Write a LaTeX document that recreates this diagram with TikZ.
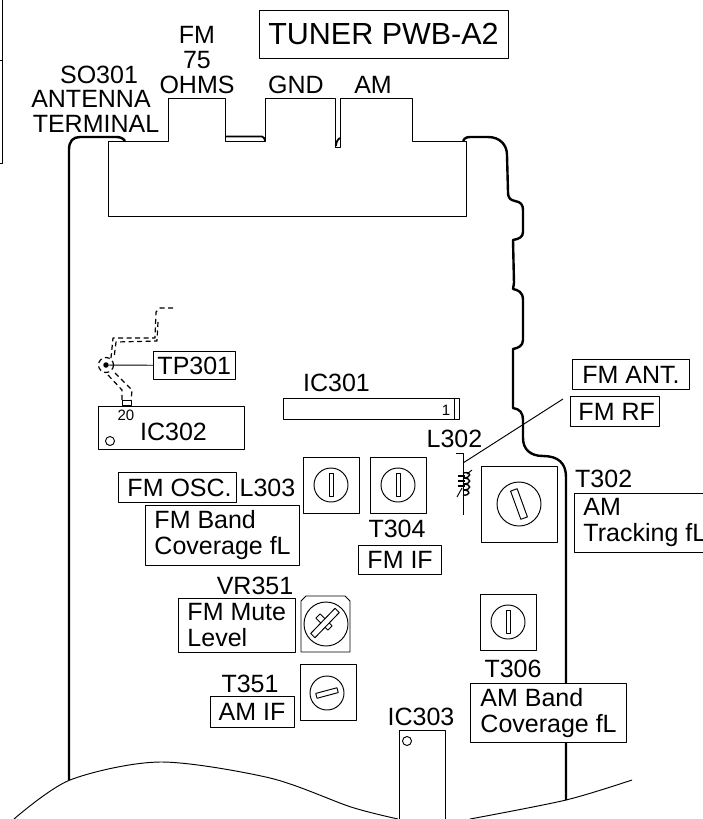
\documentclass[tikz,border=0pt]{standalone}
\usepackage{fontspec}
\setmainfont{Liberation Sans}
\usepackage{tikz}
\usetikzlibrary{calc}

\tikzset{
  thinline/.style={line width=0.95pt},
  boardline/.style={line width=2.4pt},
  tag/.style={anchor=base,inner sep=0pt,font=\fontsize{25}{26}\selectfont},
  smalltag/.style={anchor=base,inner sep=0pt,font=\fontsize{15}{16}\selectfont},
  tagbox/.style={draw,thinline,fill=white,anchor=north west,inner xsep=9pt,inner ysep=0pt,align=left,
    font=\fontsize{25}{26}\selectfont},
  knobbox/.style={draw,thinline,fill=white,inner sep=0pt,minimum width=56pt,minimum height=56pt},
  knobdial/.style={draw,thinline,circle,inner sep=0pt,minimum size=34pt},
  knobslot/.style={draw,thinline,inner sep=0pt,minimum width=4pt,minimum height=23pt},
  trace/.style={line width=1.2pt,dash pattern=on 5pt off 3.5pt},
}

\begin{document}
\begin{tikzpicture}
    [line join=bevel,x=1pt,y=-1pt]

    \useasboundingbox (0,0) rectangle (703,819);
    \clip (0,0) rectangle (703,819);

    % board outline
    \draw[boardline] (69,780) -- (69,150) .. controls (69,141) and (73,137) .. (80,137)
      -- (116,137) .. controls (120,137) and (123,138) .. (125,141);
    \draw[boardline] (463,141) .. controls (465,137) and (468,137) .. (472,137) -- (488,137)
      .. controls (500,137) and (507,145) .. (507,155) -- (508,192)
      .. controls (508,199) and (511,200) .. (515,201) .. controls (521,202) and (523,205) .. (523,210)
      -- (523,232) .. controls (523,237) and (519,239) .. (513,240) -- (514,283) -- (513,289)
      .. controls (518,290) and (523,292) .. (523,300) -- (523,340)
      .. controls (523,346) and (518,348) .. (513,349) -- (513,408)
      .. controls (520,409) and (523,413) .. (523,420) -- (523,438)
      .. controls (523,449) and (530,456) .. (543,456) .. controls (558,456) and (566,463) .. (566,477)
      -- (566,800);
    \draw[line width=1.8pt] (225,136.5) -- (262,136.5) .. controls (264,137) and (265,139) .. (265,141);
    \draw[line width=1.8pt] (336,146) .. controls (336,142) and (338,139) .. (340,138);

    % terminal block
    \draw[thinline] (108,141) -- (168,141) -- (168,98) -- (225,98) -- (225,141) -- (265,141)
      -- (265,98) -- (335,98) -- (335,147) -- (340,147) -- (340,98) -- (412,98) -- (412,141)
      -- (466,141) -- (466,216) -- (108,216) -- cycle;

    % cut edge at the bottom
    \draw[thinline] plot[smooth] coordinates {(14,819) (70,780) (160,762) (270,778) (351,807) (398,819)};
    \draw[thinline] plot[smooth] coordinates {(470,819) (566,800) (632,780)};

    % frame at top left
    \draw[thinline] (0,60) -- (2,60);
    \draw[thinline] (2,0) -- (2,163) -- (0,163);

    \node[tag] (fmlabel) at (197,43) {FM};
    \node[tag] (ohmsvalue) at (197,68) {75};
    \node[tag] (ohmslabel) at (197,93) {OHMS};
    \node[tag] (gndlabel) at (296,93) {GND};
    \node[tag] (amlabel) at (373,93) {AM};
    \node[tag] (so301) at (99,83) {SO301};
    \node[tag] (antenna) at (91,107) {ANTENNA};
    \node[tag] (terminal) at (96,132) {TERMINAL};
    \node[draw,thinline,inner sep=0pt,minimum width=249pt,minimum height=48pt,
      font=\fontsize{30.5}{32}\selectfont] (tuner) at (383.5,34) {TUNER PWB-A2};

    % IC302 and TP301
    \node[draw,thinline,anchor=north west,inner sep=0pt,minimum width=146pt,minimum height=43pt] (ic302box) at (98,406) {};
    \node[draw,thinline,circle,inner sep=0pt,minimum size=9pt] (ic302hole) at (110,441) {};
    \node[tag] (ic302) at (173.5,440) {IC302};
    \node[smalltag] (pin20) at (126,420) {20};
    \node[draw,thinline,anchor=south west,inner sep=0pt,minimum width=9pt,minimum height=5pt] (ic302pin) at (122,406) {};
    \node[tagbox,inner xsep=4pt,minimum width=81pt,minimum height=28pt] (tp301) at (153,351) {TP301};
    \node[fill,circle,inner sep=0pt,minimum size=5.5pt] (tpdot) at (106,365) {};
    \draw[thinline] (tpdot) -- (tp301);
    \draw[trace] (tpdot) circle (7.5);
    \draw[trace] (173,308) -- (160,308) -- (156,312) -- (155,338) -- (113,338) -- (111,358);
    \draw[trace] (158,322) -- (157,341) -- (116,342) -- (114,358);
    \draw[trace] (108,375) -- (122,390) -- (122,400);
    \draw[trace] (115,373) -- (132,390) -- (131,401);

    % IC301
    \node[tag] (ic301) at (336.5,391) {IC301};
    \node[draw,thinline,anchor=north west,inner sep=0pt,minimum width=176pt,minimum height=21pt] (ic301box) at (283,398) {};
    \draw[thinline] ($(ic301box.north east)+(-5,0)$) -- ($(ic301box.south east)+(-5,0)$);
    \node[smalltag] (pin1) at (446,415) {1};

    % L302
    \node[tag] (l302) at (454.5,447) {L302};
    \coordinate (coilA) at (456,453);
    \coordinate (coilB) at (463,453);
    \coordinate (coilC) at (463,515);
    \coordinate (leadA) at (463,463);
    \coordinate (leadB) at (563,399);
    \draw[thinline] (coilA) -- (coilB) -- (coilC);
    \draw[thinline] (leadA) -- (leadB);
    \draw[thinline] (472,470) -- (467,474) (462,488) -- (457,497);
    \draw[line width=1.4pt] (463,473) .. controls (472,471) and (472,478) .. (463,478)
      .. controls (472,478) and (472,484) .. (463,484) .. controls (472,484) and (472,490) .. (463,490)
      .. controls (472,490) and (470,496) .. (463,495);
    \draw[line width=2.6pt] (458,476) -- (465,476) (458,481) -- (465,481) (458,486) -- (465,486);

    % adjusters
    \node[knobbox] (boxL303) at (331,485) {};
    \node[knobdial] (dialL303) at (boxL303) {};
    \node[knobslot] (slotL303) at (boxL303) {};
    \node[knobbox] (boxT304) at (398,485) {};
    \node[knobdial] (dialT304) at (boxT304) {};
    \node[knobslot] (slotT304) at (boxT304) {};
    \node[knobbox,minimum width=76pt,minimum height=76pt] (boxT302) at (519,504) {};
    \node[knobdial,minimum size=44pt] (dialT302) at (boxT302) {};
    \node[knobslot,minimum width=7pt,minimum height=30pt,rotate=20] (slotT302) at (boxT302) {};
    \node[knobbox] (boxT306) at (508,622) {};
    \node[knobdial,minimum size=34pt] (dialT306) at (boxT306) {};
    \node[knobslot] (slotT306) at (boxT306) {};
    \node[knobbox] (boxT351) at (328,692) {};
    \node[knobdial] (dialT351) at (327,693) {};
    \node[knobslot,minimum width=5pt,minimum height=22pt,rotate=-75] (slotT351) at (dialT351) {};

    % VR351
    \draw[thinline,fill=white] (301,652) -- (301,601) -- (306,596) -- (345,596) -- (350,601) -- (350,652) -- cycle;
    \node[knobdial,minimum size=44pt] (dialVR351) at (326,624) {};
    \node[knobslot,minimum width=6pt,minimum height=17pt,rotate=45] (tabVR351) at (324,622) {};
    \node[knobslot,fill=white,minimum width=6pt,minimum height=35pt,rotate=-44] (slotVR351) at (325,623) {};

    % labels
    \node[tagbox,inner xsep=8pt,minimum width=117pt,minimum height=30pt] (fmant) at (572,359) {FM ANT.};
    \node[tagbox,inner xsep=5pt,minimum width=89pt,minimum height=30pt] (fmrf) at (570,396) {\hspace*{3pt}FM RF};
    \node[tag,anchor=base west] (t302) at (575,487) {T302};
    \node[tagbox,minimum height=59pt] (amtrack) at (574,493) {AM\\Tracking fL};
    \node[tagbox,inner xsep=5pt,minimum width=118pt,minimum height=30pt] (fmosc) at (118,472) {\hspace*{4pt}FM OSC.};
    \node[tag] (l303) at (267.5,496) {L303};
    \node[tagbox,minimum height=60pt] (fmband) at (145,505) {FM Band\\Coverage fL};
    \node[tag] (t304) at (397,537) {T304};
    \node[tagbox,minimum width=83pt,minimum height=29pt] (fmif) at (358,545) {FM IF};
    \node[tag] (vr351) at (255,594) {VR351};
    \node[tagbox,minimum height=54pt] (fmmute) at (178,598) {FM Mute\\Level};
    \node[tag] (t351) at (250,692) {T351};
    \node[tagbox,inner xsep=8pt,minimum width=84pt,minimum height=31pt] (amif) at (209.5,696) {AM IF};
    \node[tag] (t306) at (513,677) {T306};
    \node[tagbox,inner xsep=10pt,minimum height=59pt] (amband) at (470,683) {AM Band\\Coverage fL};

    % IC303
    \node[tag] (ic303) at (421,725) {IC303};
    \draw[thinline] (399,819) -- (399,730) -- (445,730) -- (445,819);
    \node[draw,thinline,circle,inner sep=0pt,minimum size=9pt] (ic303hole) at (407,741) {};
\end{tikzpicture}
\end{document}
